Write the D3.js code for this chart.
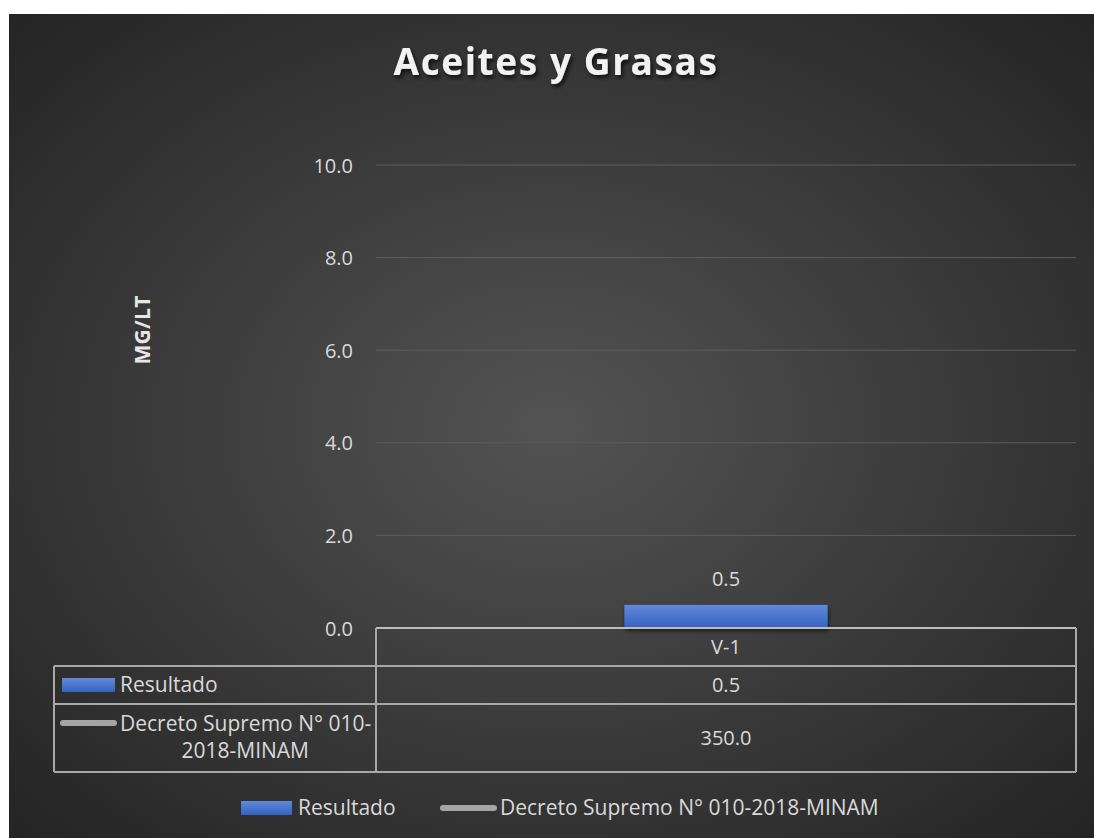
<!DOCTYPE html>
<html>
<head>
<meta charset="utf-8">
<script src="https://cdn.jsdelivr.net/npm/d3@7"></script>
<style>
  html, body { margin: 0; padding: 0; background: #ffffff; }
  svg { display: block; }
  text { font-family: "Open Sans", "DejaVu Sans", sans-serif; }
</style>
</head>
<body>
<svg id="chart" width="1094" height="838"></svg>
<script>
// ---- data ----
const title = "Aceites y Grasas";
const yAxisTitle = "MG/LT";
const categories = ["V-1"];
const resultado = [0.5];
const decreto = [350.0];
const seriesNames = ["Resultado", "Decreto Supremo N° 010-2018-MINAM"];
const yTicks = [0, 2, 4, 6, 8, 10];

// ---- layout ----
const W = 1094, H = 838;
const frame = { x: 9, y: 14, w: W - 9, h: H - 14 };
const plot = { left: 376, right: 1076, top: 165, bottom: 628 };
const tableLeft = 54;
const rowLines = [628, 666, 704, 772];
const textColor = "#d9d9d9";

const svg = d3.select("#chart");
const defs = svg.append("defs");

const bg = defs.append("radialGradient").attr("id", "bgGrad")
  .attr("cx", "50%").attr("cy", "50%").attr("r", "72%");
bg.append("stop").attr("offset", "0%").attr("stop-color", "#535353");
bg.append("stop").attr("offset", "100%").attr("stop-color", "#232323");

const barGrad = defs.append("linearGradient").attr("id", "barGrad")
  .attr("x1", 0).attr("y1", 0).attr("x2", 0).attr("y2", 1);
barGrad.append("stop").attr("offset", "0%").attr("stop-color", "#6189d8");
barGrad.append("stop").attr("offset", "100%").attr("stop-color", "#3562c2");

const shadow = defs.append("filter").attr("id", "shadow")
  .attr("x", "-20%").attr("y", "-40%").attr("width", "140%").attr("height", "180%");
shadow.append("feDropShadow").attr("dx", 2).attr("dy", 3)
  .attr("stdDeviation", 2).attr("flood-color", "#000").attr("flood-opacity", 0.7);

const barShadow = defs.append("filter").attr("id", "barShadow")
  .attr("x", "-10%").attr("y", "-30%").attr("width", "120%").attr("height", "160%");
barShadow.append("feDropShadow").attr("dx", 1).attr("dy", 3)
  .attr("stdDeviation", 2).attr("flood-color", "#000").attr("flood-opacity", 0.55);

svg.append("rect").attr("x", frame.x).attr("y", frame.y)
  .attr("width", frame.w).attr("height", frame.h).attr("fill", "url(#bgGrad)");

// ---- title ----
svg.append("text")
  .attr("x", 556).attr("y", 75)
  .attr("text-anchor", "middle")
  .attr("fill", "#f2f2f2")
  .attr("font-size", 37).attr("font-weight", 700)
  .attr("letter-spacing", 1.6)
  .attr("filter", "url(#shadow)")
  .text(title);

// ---- scales ----
const y = d3.scaleLinear().domain([0, 10]).range([plot.bottom, plot.top]);
const x = d3.scaleBand().domain(categories).range([plot.left, plot.right]).padding(0.55);

// gridlines
svg.append("g").selectAll("line").data(yTicks.filter(d => d > 0)).join("line")
  .attr("x1", plot.left).attr("x2", plot.right)
  .attr("y1", d => y(d)).attr("y2", d => y(d))
  .attr("stroke", "#5d5d5d").attr("stroke-width", 1);

// y axis labels
const yAxis = d3.axisLeft(y).tickValues(yTicks).tickFormat(d3.format(".1f")).tickSize(0).tickPadding(23);
const yg = svg.append("g").attr("transform", `translate(${plot.left},0)`).call(yAxis);
yg.select(".domain").remove();
yg.selectAll("text")
  .attr("fill", textColor).attr("font-size", 20)
  .attr("font-family", "'Open Sans', sans-serif")
  .attr("dy", "0.35em");

// y axis title
svg.append("text")
  .attr("transform", "translate(150,330) rotate(-90)")
  .attr("text-anchor", "middle")
  .attr("fill", "#e6e6e6")
  .attr("font-size", 21).attr("font-weight", 700)
  .attr("letter-spacing", 0.3)
  .text(yAxisTitle);

// ---- bars ----
svg.append("g").selectAll("rect").data(categories).join("rect")
  .attr("x", d => x(d))
  .attr("width", x.bandwidth())
  .attr("y", (d, i) => y(resultado[i]))
  .attr("height", (d, i) => y(0) - y(resultado[i]))
  .attr("fill", "url(#barGrad)")
  .attr("filter", "url(#barShadow)");

svg.append("g").selectAll("text").data(categories).join("text")
  .attr("x", d => x(d) + x.bandwidth() / 2)
  .attr("y", (d, i) => y(resultado[i]) - 19)
  .attr("text-anchor", "middle")
  .attr("fill", textColor).attr("font-size", 20)
  .text((d, i) => d3.format(".1f")(resultado[i]));

// ---- data table ----
const lineColor = "#a8a8a8";
const tg = svg.append("g").attr("stroke", lineColor).attr("stroke-width", 2).attr("fill", "none");
// horizontal lines
tg.append("line").attr("x1", plot.left).attr("x2", plot.right).attr("y1", rowLines[0]).attr("y2", rowLines[0]).attr("stroke", "#bdbdbd");
rowLines.slice(1).forEach(yy => {
  tg.append("line").attr("x1", tableLeft).attr("x2", plot.right).attr("y1", yy).attr("y2", yy);
});
// vertical lines
tg.append("line").attr("x1", tableLeft).attr("x2", tableLeft).attr("y1", rowLines[1]).attr("y2", rowLines[3]);
tg.append("line").attr("x1", plot.left).attr("x2", plot.left).attr("y1", rowLines[0]).attr("y2", rowLines[3]);
tg.append("line").attr("x1", plot.right).attr("x2", plot.right).attr("y1", rowLines[0]).attr("y2", rowLines[3]);

const cellText = (xx, yy, str, anchor, size) => svg.append("text")
  .attr("x", xx).attr("y", yy).attr("text-anchor", anchor || "middle")
  .attr("fill", textColor).attr("font-size", size || 20).text(str);

categories.forEach((c, i) => {
  const cx = x(c) + x.bandwidth() / 2;
  cellText(cx, 654, c);
  cellText(cx, 692, d3.format(".1f")(resultado[i]));
  cellText(cx, 745, d3.format(".1f")(decreto[i]));
});

// row headers
svg.append("rect").attr("x", 62).attr("y", 678).attr("width", 53).attr("height", 14).attr("fill", "url(#barGrad)");
cellText(120, 692, seriesNames[0], "start", 21);
svg.append("line").attr("x1", 63).attr("x2", 114).attr("y1", 723).attr("y2", 723)
  .attr("stroke", "#a5a5a5").attr("stroke-width", 6).attr("stroke-linecap", "round");
cellText(120, 731, "Decreto Supremo N° 010-", "start", 21);
cellText(309, 758, "2018-MINAM", "end", 21);

// ---- legend ----
const lg = svg.append("g");
lg.append("rect").attr("x", 241).attr("y", 801).attr("width", 51).attr("height", 14).attr("fill", "url(#barGrad)");
lg.append("text").attr("x", 298).attr("y", 815).attr("fill", textColor).attr("font-size", 21).text(seriesNames[0]);
lg.append("line").attr("x1", 443).attr("x2", 494).attr("y1", 808).attr("y2", 808)
  .attr("stroke", "#a5a5a5").attr("stroke-width", 6).attr("stroke-linecap", "round");
lg.append("text").attr("x", 500).attr("y", 815).attr("fill", textColor).attr("font-size", 21).text(seriesNames[1]);
</script>
</body>
</html>
